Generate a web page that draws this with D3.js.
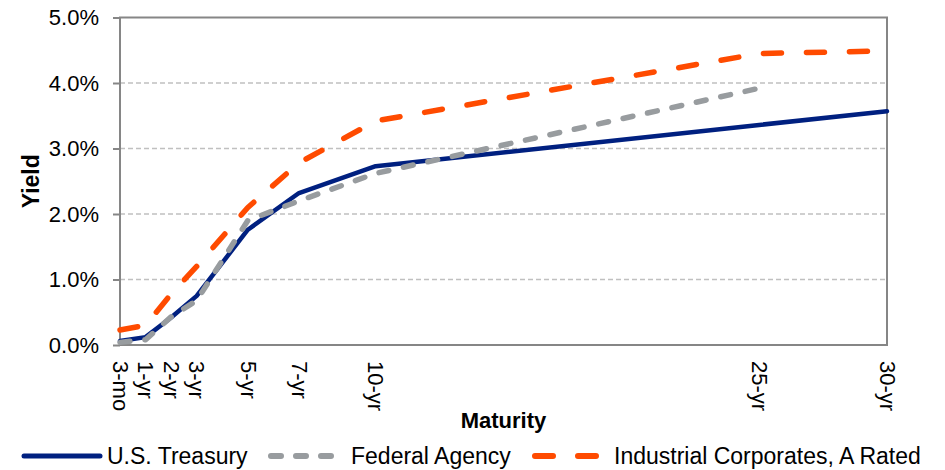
<!DOCTYPE html>
<html>
<head>
<meta charset="utf-8">
<script src="https://cdn.jsdelivr.net/npm/d3@7"></script>
<style>
  body { margin: 0; background: #fff; }
  svg { font-family: "Liberation Sans", Arial, sans-serif; }
</style>
</head>
<body>
<div id="chart"></div>
<script>
// Datos de la curva de rendimientos
const maturityLabels = ["3-mo", "1-yr", "2-yr", "3-yr", "5-yr", "7-yr", "10-yr", "25-yr", "30-yr"];
const maturityYears = [0, 1, 2, 3, 5, 7, 10, 25, 30];
const treasury = [0.06, 0.12, 0.42, 0.75, 1.76, 2.32, 2.73, 3.36, 3.57];
const agency = [0.04, 0.08, 0.43, 0.68, 1.90, 2.20, 2.62, 3.92, null];
const industrial = [0.23, 0.30, 0.78, 1.20, 2.10, 2.78, 3.42, 4.45, 4.49];
const yTicks = [0, 1, 2, 3, 4, 5];

const seriesNames = ["U.S. Treasury", "Federal Agency", "Industrial Corporates, A Rated"];
const seriesValues = [treasury, agency, industrial];

// Tamaño del SVG
const width = 945;
const height = 470;
const margin = { top: 17.5, right: 58, bottom: 125, left: 120 };
const chartWidth = width - margin.left - margin.right;
const chartHeight = height - margin.top - margin.bottom;

// Estilos de cada serie
const styles = [
    { color: "#002080", width: 4.5, dash: null, cap: "round" },
    { color: "#989c9f", width: 5.5, dash: "10,15", cap: "round" },
    { color: "#ff4b00", width: 5.5, dash: "18,25", cap: "round" }
];

const svg = d3.select("#chart")
    .append("svg")
    .attr("width", width)
    .attr("height", height);

const chartGroup = svg.append("g")
    .attr("transform", `translate(${margin.left}, ${margin.top})`);

// Escalas
const xScale = d3.scaleLinear()
    .domain([0, 30])
    .range([0, chartWidth]);

const yScale = d3.scaleLinear()
    .domain([0, 5])
    .range([chartHeight, 0]);

// Líneas de cuadrícula
chartGroup.selectAll(".grid")
    .data(yTicks.slice(1, -1))
    .enter()
    .append("line")
    .attr("class", "grid")
    .attr("x1", 0)
    .attr("x2", chartWidth)
    .attr("y1", d => yScale(d))
    .attr("y2", d => yScale(d))
    .attr("stroke", "#c0c0c0")
    .attr("stroke-width", 1.5)
    .attr("stroke-dasharray", "5,3");

// Eje Y
const yAxis = d3.axisLeft(yScale)
    .tickValues(yTicks)
    .tickSize(7)
    .tickPadding(14)
    .tickFormat(d => d.toFixed(1) + "%");

const yAxisG = chartGroup.append("g")
    .attr("class", "y-axis")
    .call(yAxis);
yAxisG.select(".domain").remove();
yAxisG.selectAll("line").attr("stroke", "#868686").attr("stroke-width", 2);
yAxisG.selectAll("text")
    .attr("fill", "#000")
    .style("font-size", "22px");

// Eje X
const xAxis = d3.axisBottom(xScale)
    .tickValues(maturityYears)
    .tickSize(0)
    .tickFormat((d, i) => maturityLabels[i]);

const xAxisG = chartGroup.append("g")
    .attr("class", "x-axis")
    .attr("transform", `translate(0, ${chartHeight})`)
    .call(xAxis);
xAxisG.select(".domain").remove();
xAxisG.selectAll("text")
    .attr("y", 0)
    .attr("x", 0)
    .attr("dy", "0.35em")
    .attr("transform", "translate(0, 16) rotate(90)")
    .attr("text-anchor", "start")
    .attr("fill", "#000")
    .style("font-size", "22px");

// Marco del área de gráfico
chartGroup.append("rect")
    .attr("x", 0)
    .attr("y", 0)
    .attr("width", chartWidth)
    .attr("height", chartHeight)
    .attr("fill", "none")
    .attr("stroke", "#868686")
    .attr("stroke-width", 2);

// Dibujar líneas
const line = d3.line()
    .defined(d => d.value !== null)
    .x(d => xScale(d.year))
    .y(d => yScale(d.value));

seriesValues.forEach((values, i) => {
    const points = values.map((v, j) => ({ year: maturityYears[j], value: v }));
    const st = styles[i];
    chartGroup.append("path")
        .datum(points)
        .attr("fill", "none")
        .attr("stroke", st.color)
        .attr("stroke-width", st.width)
        .attr("stroke-linejoin", "round")
        .attr("stroke-linecap", st.cap)
        .attr("stroke-dasharray", st.dash)
        .attr("d", line);
});

// Títulos de ejes
svg.append("text")
    .attr("x", margin.left + chartWidth / 2)
    .attr("y", 428)
    .attr("text-anchor", "middle")
    .style("font-size", "22px")
    .style("font-weight", "bold")
    .text("Maturity");

svg.append("text")
    .attr("transform", `translate(39, ${margin.top + chartHeight / 2}) rotate(-90)`)
    .attr("text-anchor", "middle")
    .style("font-size", "23px")
    .style("font-weight", "bold")
    .text("Yield");

// Leyenda
const legendItems = [
    { x1: 24, x2: 100, tx: 107 },
    { x1: 271, x2: 331, tx: 351 },
    { x1: 535, x2: 598, tx: 614 }
];
const legendY = 456;

legendItems.forEach((item, i) => {
    const st = styles[i];
    svg.append("line")
        .attr("x1", item.x1)
        .attr("x2", item.x2)
        .attr("y1", legendY)
        .attr("y2", legendY)
        .attr("stroke", st.color)
        .attr("stroke-width", st.width + 0.5)
        .attr("stroke-linecap", st.cap)
        .attr("stroke-dasharray", st.dash);
    svg.append("text")
        .attr("x", item.tx)
        .attr("y", legendY)
        .attr("dy", "0.35em")
        .style("font-size", "23px")
        .text(seriesNames[i]);
});
</script>
</body>
</html>
